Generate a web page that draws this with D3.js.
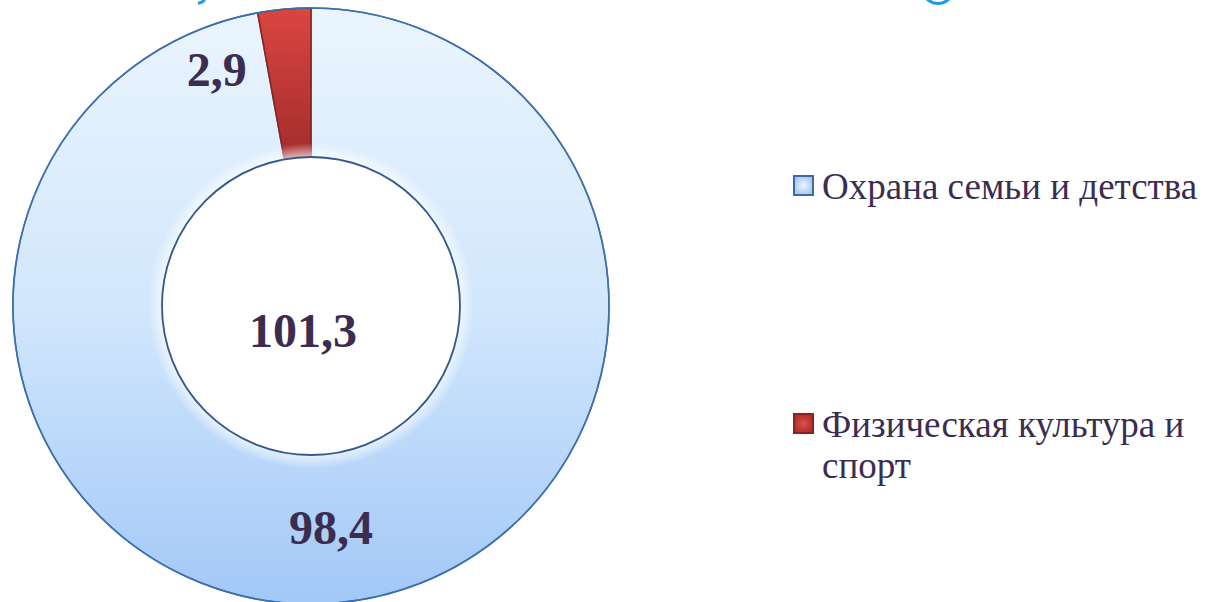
<!DOCTYPE html>
<html><head><meta charset="utf-8">
<script src="https://cdn.jsdelivr.net/npm/d3@7"></script>
<style>html,body{margin:0;padding:0;background:#fff;overflow:hidden}</style>
</head><body>
<svg id="chart" width="1218" height="602"></svg>
<script>
const categories = ["Охрана семьи и детства", "Физическая культура и спорт"];
const values = [98.4, 2.9];
const valueLabels = ["98,4", "2,9"];
const totalLabel = "101,3";
const legendLines = [["Охрана семьи и детства"], ["Физическая культура и", "спорт"]];

const svg = d3.select("#chart");
const cx = 311, cy = 306, R = 298, r0 = 149;
const textColor = "#3b2d4f";

const defs = svg.append("defs");
const gBlue = defs.append("linearGradient").attr("id","gBlue")
  .attr("gradientUnits","userSpaceOnUse").attr("x1",0).attr("y1",-R).attr("x2",0).attr("y2",R);
gBlue.append("stop").attr("offset","0%").attr("stop-color","#eaf5fe");
gBlue.append("stop").attr("offset","50%").attr("stop-color","#d2e7fc");
gBlue.append("stop").attr("offset","100%").attr("stop-color","#a2c8f7");
const gRed = defs.append("linearGradient").attr("id","gRed").attr("x1",0).attr("y1",0).attr("x2",0).attr("y2",1);
gRed.append("stop").attr("offset","0%").attr("stop-color","#da4642");
gRed.append("stop").attr("offset","100%").attr("stop-color","#a22c2b");
const gHole = defs.append("radialGradient").attr("id","gHole")
  .attr("gradientUnits","userSpaceOnUse").attr("cx",0).attr("cy",0).attr("r",r0+14);
gHole.append("stop").attr("offset",(r0/(r0+14)*100)+"%").attr("stop-color","#ffffff").attr("stop-opacity",0.95);
gHole.append("stop").attr("offset","100%").attr("stop-color","#ffffff").attr("stop-opacity",0);
const lgBlue = defs.append("radialGradient").attr("id","lgBlue");
lgBlue.append("stop").attr("offset","0%").attr("stop-color","#eef6ff");
lgBlue.append("stop").attr("offset","100%").attr("stop-color","#a9cbf3");
const lgRed = defs.append("radialGradient").attr("id","lgRed");
lgRed.append("stop").attr("offset","0%").attr("stop-color","#e0504b");
lgRed.append("stop").attr("offset","100%").attr("stop-color","#b0302d");

const fills = ["url(#gBlue)", "url(#gRed)"];
const strokes = ["#4a7ebb", "#8a2321"];
const legendFills = ["url(#lgBlue)", "url(#lgRed)"];
const legendStrokes = ["#3d69a5", "#8a2222"];

// tiny decorative fragments at the top edge (from slide title shapes)
svg.append("path").attr("d", d3.arc()({innerRadius:14, outerRadius:17, startAngle:Math.PI*0.6, endAngle:Math.PI*1.4}))
  .attr("transform","translate(938,-12)").attr("fill","#1d9ce8");
svg.append("path").attr("d", d3.arc()({innerRadius:11, outerRadius:14, startAngle:Math.PI*0.75, endAngle:Math.PI*0.95}))
  .attr("transform","translate(196,-9)").attr("fill","#1d9ce8");

const pie = d3.pie().sort(null).value(d => d)(values);
const arc = d3.arc().innerRadius(r0).outerRadius(R);
const g = svg.append("g").attr("transform", `translate(${cx},${cy})`);

g.selectAll("path.slice").data(pie).join("path").attr("class","slice")
  .attr("d", arc)
  .attr("fill", (d,i) => fills[i])
  .attr("stroke", (d,i) => strokes[i])
  .attr("stroke-width", 1.6)
  .attr("stroke-linejoin","round");

// inner glow near the hole
g.append("path").attr("d", d3.arc()({innerRadius:r0, outerRadius:r0+14, startAngle:0, endAngle:2*Math.PI}))
  .attr("fill","url(#gHole)").attr("opacity",0.7);
// hole edge
g.append("circle").attr("r", r0).attr("fill","#ffffff").attr("stroke","#34598c").attr("stroke-width",1.8);
// outer edge
g.append("circle").attr("r", R).attr("fill","none").attr("stroke","#3f6fab").attr("stroke-width",1.6);

// data labels
const labelPos = [
  d => arc.centroid(d),
  d => { const a = d.startAngle - 0.2, rr = 254; return [Math.sin(a)*rr, -Math.cos(a)*rr]; }
];
g.selectAll("text.val").data(pie).join("text").attr("class","val")
  .attr("transform", (d,i) => `translate(${labelPos[i](d)})`)
  .attr("text-anchor","middle").attr("dy","0.33em")
  .attr("font-family","'Liberation Serif','Times New Roman',serif")
  .attr("font-weight","bold").attr("font-size",48).attr("fill",textColor)
  .text((d,i) => valueLabels[i]);

g.append("text").attr("x",-8).attr("y",25).attr("dy","0.33em").attr("text-anchor","middle")
  .attr("font-family","'Liberation Serif','Times New Roman',serif")
  .attr("font-weight","bold").attr("font-size",48).attr("fill",textColor)
  .text(totalLabel);

// legend
const legY = d3.scalePoint().domain(categories).range([199, 437]);
const leg = svg.append("g");
categories.forEach((c,i) => {
  const y = legY(c);
  leg.append("rect").attr("x",794).attr("y",y-23).attr("width",19).attr("height",19)
    .attr("fill",legendFills[i]).attr("stroke",legendStrokes[i]).attr("stroke-width",2);
  const t = leg.append("text").attr("x",822).attr("y",y)
    .attr("font-family","'Liberation Serif','Times New Roman',serif")
    .attr("font-size",37).attr("fill",textColor);
  legendLines[i].forEach((ln,j) => t.append("tspan").attr("x",822).attr("dy", j===0?0:41).text(ln));
});
</script>
</body></html>
